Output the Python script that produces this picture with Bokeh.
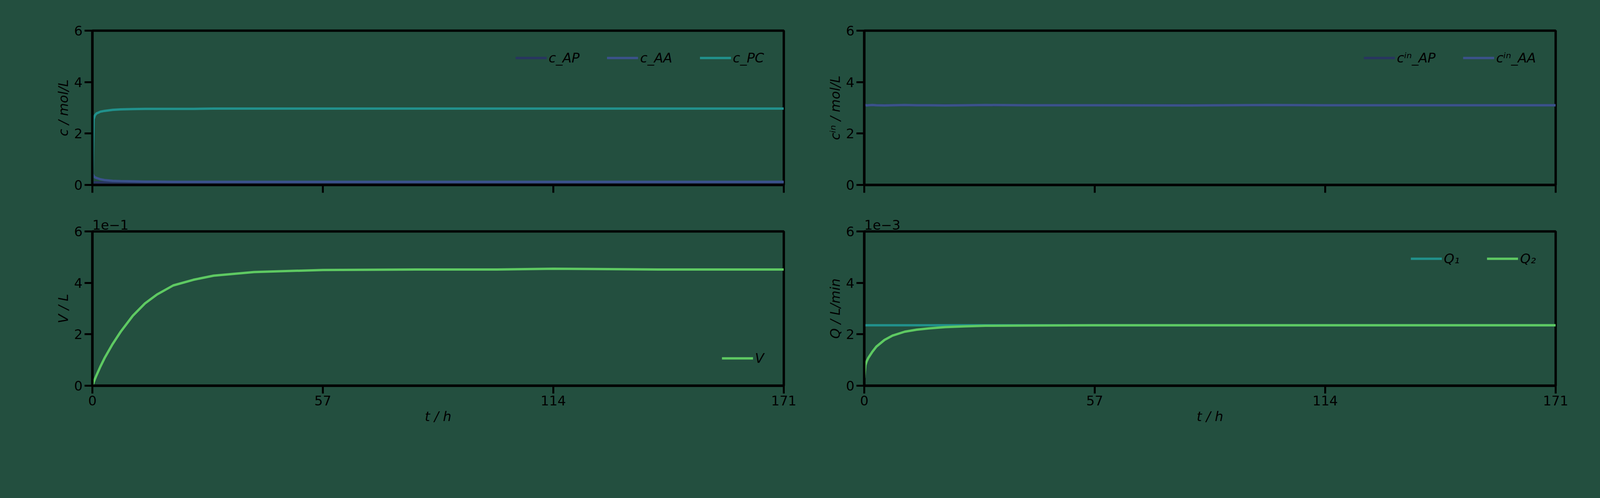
from bokeh.plotting import figure
from bokeh.layouts import row, column
from bokeh.models import Legend, LegendItem, FixedTicker, Range1d
from bokeh.embed import file_html
from bokeh.resources import INLINE

t = [0, 0.3, 0.6, 1, 2, 3, 5, 7, 10, 13, 16, 20, 25, 30, 40, 57, 80, 100, 114, 140, 171]
c_AP = [0.10, 0.10, 0.10, 0.10, 0.10, 0.10, 0.10, 0.10, 0.10, 0.10, 0.10, 0.10, 0.10, 0.10, 0.10, 0.10, 0.10, 0.10, 0.10, 0.10, 0.10]
c_AA = [0.45, 0.35, 0.30, 0.27, 0.22, 0.19, 0.16, 0.15, 0.14, 0.13, 0.13, 0.12, 0.12, 0.12, 0.12, 0.12, 0.12, 0.12, 0.12, 0.12, 0.12]
c_PC = [0.0, 2.55, 2.70, 2.78, 2.85, 2.88, 2.92, 2.94, 2.95, 2.96, 2.96, 2.96, 2.96, 2.97, 2.97, 2.97, 2.97, 2.97, 2.97, 2.97, 2.97]
c_AP_in = [3.10] * len(t)
c_AA_in = [3.10, 3.11, 3.09, 3.10, 3.11, 3.10, 3.09, 3.10, 3.11, 3.10, 3.10, 3.09, 3.10, 3.11, 3.10, 3.10, 3.09, 3.11, 3.10, 3.10, 3.10]
V = [0.0, 0.12, 0.25, 0.40, 0.75, 1.07, 1.62, 2.10, 2.72, 3.20, 3.55, 3.90, 4.12, 4.28, 4.42, 4.50, 4.52, 4.52, 4.55, 4.52, 4.52]
Q1 = [2.35] * len(t)
Q2 = [0.30, 0.80, 0.95, 1.08, 1.32, 1.52, 1.78, 1.95, 2.10, 2.18, 2.23, 2.28, 2.31, 2.33, 2.34, 2.35, 2.35, 2.35, 2.35, 2.35, 2.35]
xticks = [0, 57, 114, 171]
yticks = [0, 2, 4, 6]

BG = "#234f3f"
FONT = "DejaVu Sans"
FS = "34px"
FW = 1770

def make(ylabel, bl, bt, br, bb, show_xlabels, title=None):
    p = figure(frame_width=FW, frame_height=395, output_backend="svg", toolbar_location=None,
               min_border_left=bl, min_border_top=bt, min_border_right=br, min_border_bottom=bb,
               x_range=Range1d(0, 171), y_range=Range1d(0, 6),
               background_fill_color=BG, border_fill_color=BG)
    p.grid.visible = False
    p.outline_line_color = "black"
    p.outline_line_width = 6
    for ax in (p.xaxis[0], p.yaxis[0]):
        ax.axis_line_width = 6
        ax.major_tick_line_width = 5
        ax.major_tick_out = 20
        ax.major_tick_in = 0
        ax.minor_tick_line_color = None
        ax.major_label_text_font = FONT
        ax.major_label_text_font_size = FS
        ax.major_label_text_color = "black"
        ax.axis_label_text_font = FONT
        ax.axis_label_text_font_size = FS
        ax.axis_label_text_font_style = "italic"
        ax.axis_label_text_color = "black"
    p.xaxis.ticker = FixedTicker(ticks=xticks)
    p.yaxis.ticker = FixedTicker(ticks=yticks)
    p.yaxis.axis_label = ylabel
    if show_xlabels:
        p.xaxis.axis_label = "t / h"
    else:
        p.xaxis.major_label_overrides = {k: "" for k in xticks}
    if title:
        p.title.text = title
        p.title.text_font = FONT
        p.title.text_font_size = FS
        p.title.text_font_style = "normal"
        p.title.align = "left"
        p.title.text_color = "black"
    return p

def leg(p, items, loc):
    lg = Legend(items=items, location=loc, orientation="horizontal",
                background_fill_alpha=0, border_line_alpha=0,
                label_text_font=FONT, label_text_font_size=FS, label_text_font_style="italic",
                label_text_color="black", glyph_width=80, spacing=70, margin=40)
    p.add_layout(lg)

tl = make("c / mol/L", 236, 78, 36, 40, False)
r1 = tl.line(t, c_AP, color="#283560", line_width=6)
r2 = tl.line(t, c_AA, color="#3b528b", line_width=6)
r3 = tl.line(t, c_PC, color="#21918c", line_width=6)
leg(tl, [LegendItem(label="c_AP", renderers=[r1]), LegendItem(label="c_AA", renderers=[r2]),
         LegendItem(label="c_PC", renderers=[r3])], "top_right")

bl = make("V / L", 236, 79, 36, 250, True, "1e\u22121")
r4 = bl.line(t, V, color="#5ec962", line_width=6)
leg(bl, [LegendItem(label="V", renderers=[r4])], "bottom_right")

tr = make("c\u2071\u207f / mol/L", 170, 78, 60, 40, False)
r5 = tr.line(t, c_AP_in, color="#283560", line_width=6)
r6 = tr.line(t, c_AA_in, color="#3b528b", line_width=6)
leg(tr, [LegendItem(label="c\u2071\u207f_AP", renderers=[r5]), LegendItem(label="c\u2071\u207f_AA", renderers=[r6])], "top_right")

br = make("Q / L/min", 170, 79, 60, 250, True, "1e\u22123")
r7 = br.line(t, Q1, color="#21918c", line_width=6)
r8 = br.line(t, Q2, color="#5ec962", line_width=6)
leg(br, [LegendItem(label="Q\u2081", renderers=[r7]), LegendItem(label="Q\u2082", renderers=[r8])], "top_right")

layout = row(column(tl, bl), column(tr, br), styles={"background-color": BG})
html = file_html(layout, INLINE)
html = html.replace("<body>", '<body style="background-color:%s">' % BG)
open("out.html", "w").write(html)
